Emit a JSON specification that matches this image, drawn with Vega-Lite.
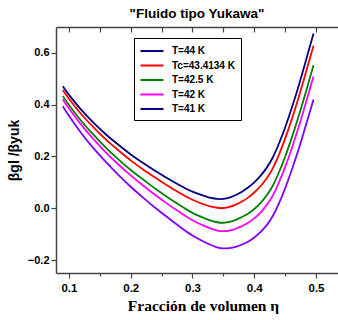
{
  "$schema": "https://vega.github.io/schema/vega-lite/v6.json",
  "autosize": {"type": "none"},
  "padding": {"left": 56, "top": 27, "right": 0, "bottom": 47},
  "width": 282,
  "height": 246,
  "title": {"text": "\"Fluido tipo Yukawa\"", "font": "Liberation Sans", "fontSize": 13.5, "fontWeight": "bold", "color": "black", "offset": 6},
  "data": {"values": [
    {"eta": 0.09, "T44": 0.471, "Tc": 0.457, "T425": 0.434, "T42": 0.421, "T41": 0.394},
    {"eta": 0.10, "T44": 0.438, "Tc": 0.423, "T425": 0.399, "T42": 0.385, "T41": 0.357},
    {"eta": 0.12, "T44": 0.380, "Tc": 0.363, "T425": 0.337, "T42": 0.322, "T41": 0.290},
    {"eta": 0.14, "T44": 0.330, "Tc": 0.312, "T425": 0.283, "T42": 0.266, "T41": 0.231},
    {"eta": 0.16, "T44": 0.285, "Tc": 0.265, "T425": 0.233, "T42": 0.215, "T41": 0.178},
    {"eta": 0.18, "T44": 0.245, "Tc": 0.224, "T425": 0.189, "T42": 0.169, "T41": 0.129},
    {"eta": 0.20, "T44": 0.208, "Tc": 0.185, "T425": 0.148, "T42": 0.127, "T41": 0.083},
    {"eta": 0.22, "T44": 0.175, "Tc": 0.150, "T425": 0.111, "T42": 0.088, "T41": 0.041},
    {"eta": 0.24, "T44": 0.144, "Tc": 0.118, "T425": 0.075, "T42": 0.051, "T41": 0.001},
    {"eta": 0.26, "T44": 0.115, "Tc": 0.087, "T425": 0.042, "T42": 0.016, "T41": -0.036},
    {"eta": 0.28, "T44": 0.088, "Tc": 0.058, "T425": 0.011, "T42": -0.016, "T41": -0.072},
    {"eta": 0.30, "T44": 0.064, "Tc": 0.033, "T425": -0.018, "T42": -0.046, "T41": -0.105},
    {"eta": 0.32, "T44": 0.047, "Tc": 0.014, "T425": -0.039, "T42": -0.069, "T41": -0.131},
    {"eta": 0.33, "T44": 0.040, "Tc": 0.006, "T425": -0.048, "T42": -0.079, "T41": -0.142},
    {"eta": 0.34, "T44": 0.036, "Tc": 0.002, "T425": -0.054, "T42": -0.086, "T41": -0.151},
    {"eta": 0.35, "T44": 0.036, "Tc": 0.001, "T425": -0.056, "T42": -0.088, "T41": -0.155},
    {"eta": 0.36, "T44": 0.041, "Tc": 0.005, "T425": -0.053, "T42": -0.086, "T41": -0.154},
    {"eta": 0.37, "T44": 0.051, "Tc": 0.014, "T425": -0.045, "T42": -0.079, "T41": -0.149},
    {"eta": 0.38, "T44": 0.064, "Tc": 0.026, "T425": -0.034, "T42": -0.069, "T41": -0.140},
    {"eta": 0.39, "T44": 0.080, "Tc": 0.041, "T425": -0.021, "T42": -0.056, "T41": -0.129},
    {"eta": 0.40, "T44": 0.100, "Tc": 0.061, "T425": -0.003, "T42": -0.039, "T41": -0.113},
    {"eta": 0.41, "T44": 0.125, "Tc": 0.085, "T425": 0.020, "T42": -0.017, "T41": -0.092},
    {"eta": 0.42, "T44": 0.156, "Tc": 0.115, "T425": 0.049, "T42": 0.012, "T41": -0.066},
    {"eta": 0.43, "T44": 0.196, "Tc": 0.154, "T425": 0.087, "T42": 0.049, "T41": -0.030},
    {"eta": 0.44, "T44": 0.250, "Tc": 0.207, "T425": 0.139, "T42": 0.100, "T41": 0.019},
    {"eta": 0.45, "T44": 0.312, "Tc": 0.269, "T425": 0.199, "T42": 0.159, "T41": 0.077},
    {"eta": 0.46, "T44": 0.382, "Tc": 0.338, "T425": 0.267, "T42": 0.226, "T41": 0.143},
    {"eta": 0.47, "T44": 0.458, "Tc": 0.413, "T425": 0.341, "T42": 0.299, "T41": 0.214},
    {"eta": 0.48, "T44": 0.540, "Tc": 0.494, "T425": 0.420, "T42": 0.378, "T41": 0.292},
    {"eta": 0.49, "T44": 0.625, "Tc": 0.578, "T425": 0.503, "T42": 0.461, "T41": 0.372},
    {"eta": 0.496, "T44": 0.675, "Tc": 0.628, "T425": 0.552, "T42": 0.509, "T41": 0.420}
  ]},
  "transform": [
    {"fold": ["T44", "Tc", "T425", "T42", "T41"], "as": ["serie", "beta"]}
  ],
  "layer": [
    {
      "transform": [{"filter": "datum.serie != 'T41'"}],
      "mark": {"type": "line", "interpolate": "natural", "strokeWidth": 1.8, "clip": true},
      "encoding": {
        "x": {
          "field": "eta", "type": "quantitative",
          "scale": {"domain": [0.079, 0.5356], "nice": false, "zero": false},
          "axis": {
            "orient": "bottom",
            "title": "Fracción de volumen η",
            "titleFont": "Liberation Serif", "titleFontSize": 15.5, "titleFontWeight": "bold", "titleColor": "black", "titlePadding": 5, "titleX": 147,
            "values": [0.1, 0.15, 0.2, 0.25, 0.3, 0.35, 0.4, 0.45, 0.5],
            "labelExpr": "round(datum.value*20) % 2 == 0 ? format(datum.value, '.1f') : ''",
            "labelFont": "Liberation Sans", "labelFontSize": 11.5, "labelFontWeight": "bold", "labelColor": "black", "labelPadding": 4,
            "tickSize": {"condition": {"test": "round(datum.value*20) % 2 == 0", "value": 5}, "value": 3},
            "tickColor": "#444", "tickWidth": 1.2,
            "domainColor": "#444", "domainWidth": 1.5,
            "grid": false
          }
        },
        "y": {
          "field": "beta", "type": "quantitative",
          "scale": {"domain": [-0.25, 0.7], "nice": false, "zero": false},
          "axis": {
            "orient": "left",
            "title": "βgl /βyuk",
            "titleFont": "Liberation Sans", "titleFontSize": 14, "titleFontWeight": "bold", "titleColor": "black", "titlePadding": 6,
            "values": [-0.2, -0.1, 0, 0.1, 0.2, 0.3, 0.4, 0.5, 0.6],
            "labelExpr": "round(datum.value*10) % 2 == 0 ? format(datum.value, '.1f') : ''",
            "labelFont": "Liberation Sans", "labelFontSize": 11, "labelFontWeight": "bold", "labelColor": "black", "labelPadding": 2,
            "tickSize": {"condition": {"test": "round(datum.value*10) % 2 == 0", "value": 5}, "value": 3},
            "tickColor": "#444", "tickWidth": 1.2,
            "domainColor": "#444", "domainWidth": 1.5,
            "grid": false
          }
        },
        "color": {
          "field": "serie", "type": "nominal",
          "scale": {
            "domain": ["T44", "Tc", "T425", "T42", "T41"],
            "range": ["#000080", "#ff0000", "#008000", "#ff00ff", "#000080"]
          },
          "legend": {
            "orient": "none", "legendX": 78, "legendY": 11, "title": null,
            "strokeColor": "black", "fillColor": "white", "padding": 6,
            "symbolType": "M-2,0H2", "symbolSize": 132, "symbolStrokeWidth": 2, "symbolOffset": 5,
            "labelExpr": "{'T44': 'T=44 K', 'Tc': 'Tc=43.4134 K', 'T425': 'T=42.5 K', 'T42': 'T=42 K', 'T41': 'T=41 K'}[datum.label]",
            "labelFont": "Liberation Sans", "labelFontWeight": "bold", "labelFontSize": 10, "labelColor": "black",
            "labelOffset": 13, "rowPadding": 2.5
          }
        }
      }
    },
    {
      "transform": [{"filter": "datum.serie == 'T41'"}],
      "mark": {"type": "line", "interpolate": "natural", "strokeWidth": 1.8, "color": "#8000ff", "clip": true},
      "encoding": {
        "x": {
          "field": "eta", "type": "quantitative",
          "axis": {
            "orient": "top", "title": null, "labels": false,
            "values": [0.1, 0.15, 0.2, 0.25, 0.3, 0.35, 0.4, 0.45, 0.5],
            "tickSize": -5, "tickColor": "#444", "tickWidth": 1.2,
            "domainColor": "#444", "domainWidth": 1.5, "grid": false
          }
        },
        "y": {"field": "beta", "type": "quantitative"}
      }
    }
  ],
  "resolve": {"axis": {"x": "independent"}},
  "config": {"view": {"stroke": null}, "background": "white"}
}
